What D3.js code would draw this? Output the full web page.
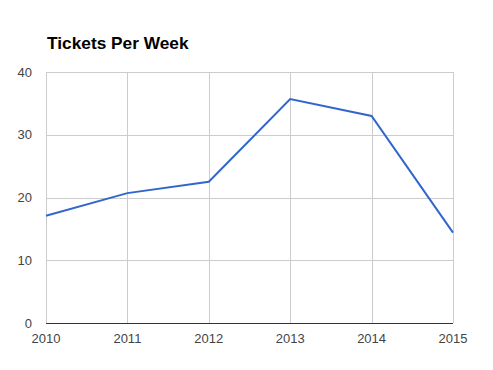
<!DOCTYPE html>
<html lang="en">
<head>
  <meta charset="utf-8">
  <title>Tickets Per Week</title>
  <script src="https://cdn.jsdelivr.net/npm/d3@7"></script>
  <style>
    body { margin: 0; background: #fff; }
    text { font-family: Arial, "Liberation Sans", sans-serif; }
  </style>
</head>
<body>
  <div class="chart"></div>
  <script>
    var years = [2010, 2011, 2012, 2013, 2014, 2015];
    var tickets = [17.1, 20.7, 22.5, 35.7, 33.0, 14.4];
    var yTicks = [0, 10, 20, 30, 40];

    var W = 493, H = 370;
    var m = {top: 72, right: 40, bottom: 47, left: 46};

    var svg = d3.select(".chart").append("svg")
      .attr("width", W)
      .attr("height", H);

    var x = d3.scaleLinear().domain([2010, 2015]).range([m.left, W - m.right]);
    var y = d3.scaleLinear().domain([0, 40]).range([H - m.bottom, m.top]);

    svg.append("text")
      .attr("x", 47)
      .attr("y", 49)
      .style("font-size", "17.3px")
      .style("font-weight", "bold")
      .style("fill", "#000")
      .text("Tickets Per Week");

    // horizontal grid
    svg.selectAll(".hgrid").data(yTicks).enter().append("line")
      .attr("x1", m.left).attr("x2", W - m.right)
      .attr("y1", function(d){ return Math.round(y(d)) + 0.5; })
      .attr("y2", function(d){ return Math.round(y(d)) + 0.5; })
      .style("stroke", "#ccc");

    // vertical grid
    svg.selectAll(".vgrid").data(years).enter().append("line")
      .attr("y1", m.top).attr("y2", H - m.bottom)
      .attr("x1", function(d){ return Math.round(x(d)) + 0.5; })
      .attr("x2", function(d){ return Math.round(x(d)) + 0.5; })
      .style("stroke", "#ccc");

    // baseline
    svg.append("line")
      .attr("x1", m.left).attr("x2", W - m.right)
      .attr("y1", Math.round(y(0)) + 0.5).attr("y2", Math.round(y(0)) + 0.5)
      .style("stroke", "#333");

    var line = d3.line()
      .x(function(d, i){ return x(years[i]); })
      .y(function(d){ return y(d); });

    svg.append("path")
      .datum(tickets)
      .attr("d", line)
      .style("fill", "none")
      .style("stroke", "#3366cc")
      .style("stroke-width", 2);

    svg.selectAll(".ylab").data(yTicks).enter().append("text")
      .attr("x", 32)
      .attr("y", function(d){ return y(d) + 4.6; })
      .attr("text-anchor", "end")
      .style("font-size", "13px")
      .style("fill", "#444")
      .text(function(d){ return d; });

    svg.selectAll(".xlab").data(years).enter().append("text")
      .attr("x", function(d){ return x(d); })
      .attr("y", 343)
      .attr("text-anchor", "middle")
      .style("font-size", "13px")
      .style("fill", "#444")
      .text(function(d){ return d; });
  </script>
</body>
</html>
